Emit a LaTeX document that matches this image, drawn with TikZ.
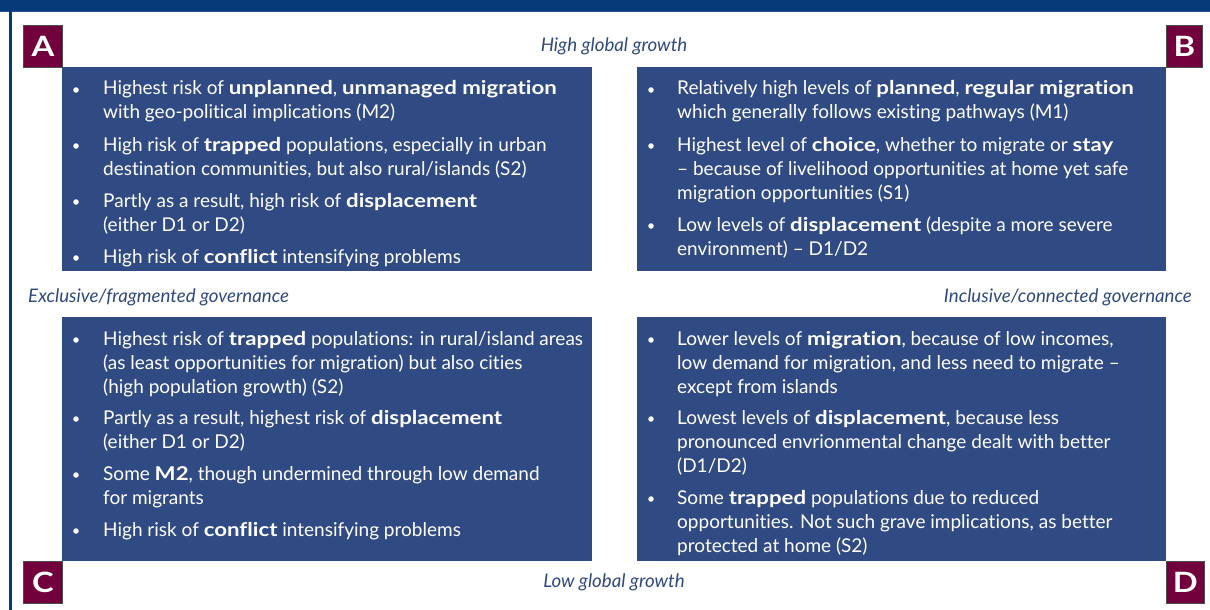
\documentclass[tikz,border=0pt]{standalone}
\usepackage{fontspec}
\setmainfont{Lato}[Ligatures={NoCommon}, BoldFeatures={FakeStretch=1.17}]
\definecolor{boxblue}{HTML}{304B83}
\definecolor{barblue}{HTML}{063A79}
\definecolor{lineblue}{HTML}{2A5392}
\definecolor{maroon}{HTML}{72003D}
\definecolor{lblue}{HTML}{2F4A7E}
\tikzset{
  letter/.style={fill=maroon, draw=black!70, line width=0.8pt, text=white, font=\fontsize{28}{28}\selectfont\bfseries, inner sep=0pt},
  axis/.style={text=lblue, font=\fontsize{18.7}{20}\selectfont\itshape, inner sep=0pt},
  item/.style={text=white, anchor=base west, inner sep=0pt},
  dot/.style={circle, fill=white, inner sep=0pt, minimum size=5.5pt},
}
\newcommand{\itm}[1]{\parbox[t]{520pt}{\fontsize{19}{24}\selectfont #1}}
\begin{document}
\begin{tikzpicture}[x=1pt,y=-1pt]
\useasboundingbox (0,0) rectangle (1210,610);
\fill[white] (0,0) rectangle (1210,610);
% frame
\fill[barblue] (0,0) rectangle (1210,11);
\draw[lineblue, line width=1pt] (0,11.5) -- (1210,11.5);
\fill[barblue] (9,11) rectangle (11.5,610);
% quadrant boxes
\fill[boxblue] (62,67) rectangle (592,271);
\fill[boxblue] (637,67) rectangle (1166,271);
\fill[boxblue] (62,317) rectangle (592,561);
\fill[boxblue] (637,317) rectangle (1166,561);
% letters
\node[letter, minimum width=39pt, minimum height=42pt, anchor=north west] (la) at (23,25) {A};
\node[letter, minimum width=36pt, minimum height=42pt, anchor=north west] (lb) at (1166,25) {B};
\node[letter, minimum width=39pt, minimum height=42pt, anchor=north west] (lc) at (23,561) {C};
\node[letter, minimum width=38pt, minimum height=42pt, anchor=north west] (ld) at (1166,561) {D};
% axis labels
\node[axis, anchor=base] (hg) at (614,52) {High global growth};
\node[axis, anchor=base] (lg) at (614,587) {Low global growth};
\node[axis, anchor=base west] (ex) at (28,302) {Exclusive/fragmented governance};
\node[axis, anchor=base east] (in) at (1192,302) {Inclusive/connected governance};
% Box A
\node[dot] (ad1) at (76,90) {};
\node[item] (a1) at (103,95) {\itm{Highest risk of \textbf{unplanned}, \textbf{unmanaged migration}\\with geo-political implications (M2)}};
\node[dot] (ad2) at (76,146) {};
\node[item] (a2) at (103,151) {\itm{High risk of \textbf{trapped} populations, especially in urban\\destination communities, but also rural/islands (S2)}};
\node[dot] (ad3) at (76,202) {};
\node[item] (a3) at (103,207) {\itm{Partly as a result, high risk of \textbf{displacement}\\(either D1 or D2)}};
\node[dot] (ad4) at (76,258) {};
\node[item] (a4) at (103,263) {\itm{High risk of \textbf{conflict} intensifying problems}};
% Box B
\node[dot] (bd1) at (651,90) {};
\node[item] (b1) at (677,95) {\itm{Relatively high levels of \textbf{planned}, \textbf{regular migration}\\which generally follows existing pathways (M1)}};
\node[dot] (bd2) at (651,146) {};
\node[item] (b2) at (677,151) {\itm{Highest level of \textbf{choice}, whether to migrate or \textbf{stay}\\– because of livelihood opportunities at home yet safe\\migration opportunities (S1)}};
\node[dot] (bd3) at (651,226) {};
\node[item] (b3) at (677,231) {\itm{Low levels of \textbf{displacement} (despite a more severe\\environment) – D1/D2}};
% Box C
\node[dot] (cd1) at (76,340) {};
\node[item] (c1) at (103,345) {\itm{Highest risk of \textbf{trapped} populations: in rural/island areas\\(as least opportunities for migration) but also cities\\(high population growth) (S2)}};
\node[dot] (cd2) at (76,419) {};
\node[item] (c2) at (103,424) {\itm{Partly as a result, highest risk of \textbf{displacement}\\(either D1 or D2)}};
\node[dot] (cd3) at (76,475) {};
\node[item] (c3) at (103,480) {\itm{Some \textbf{M2}, though undermined through low demand\\for migrants}};
\node[dot] (cd4) at (76,531) {};
\node[item] (c4) at (103,536) {\itm{High risk of \textbf{conflict} intensifying problems}};
% Box D
\node[dot] (dd1) at (651,340) {};
\node[item] (d1) at (677,345) {\itm{Lower levels of \textbf{migration}, because of low incomes,\\low demand for migration, and less need to migrate –\\except from islands}};
\node[dot] (dd2) at (651,419) {};
\node[item] (d2) at (677,424) {\itm{Lowest levels of \textbf{displacement}, because less\\pronounced envrionmental change dealt with better\\(D1/D2)}};
\node[dot] (dd3) at (651,499) {};
\node[item] (d3) at (677,504) {\itm{Some \textbf{trapped} populations due to reduced\\opportunities. Not such grave implications, as better\\protected at home (S2)}};
\end{tikzpicture}
\end{document}
